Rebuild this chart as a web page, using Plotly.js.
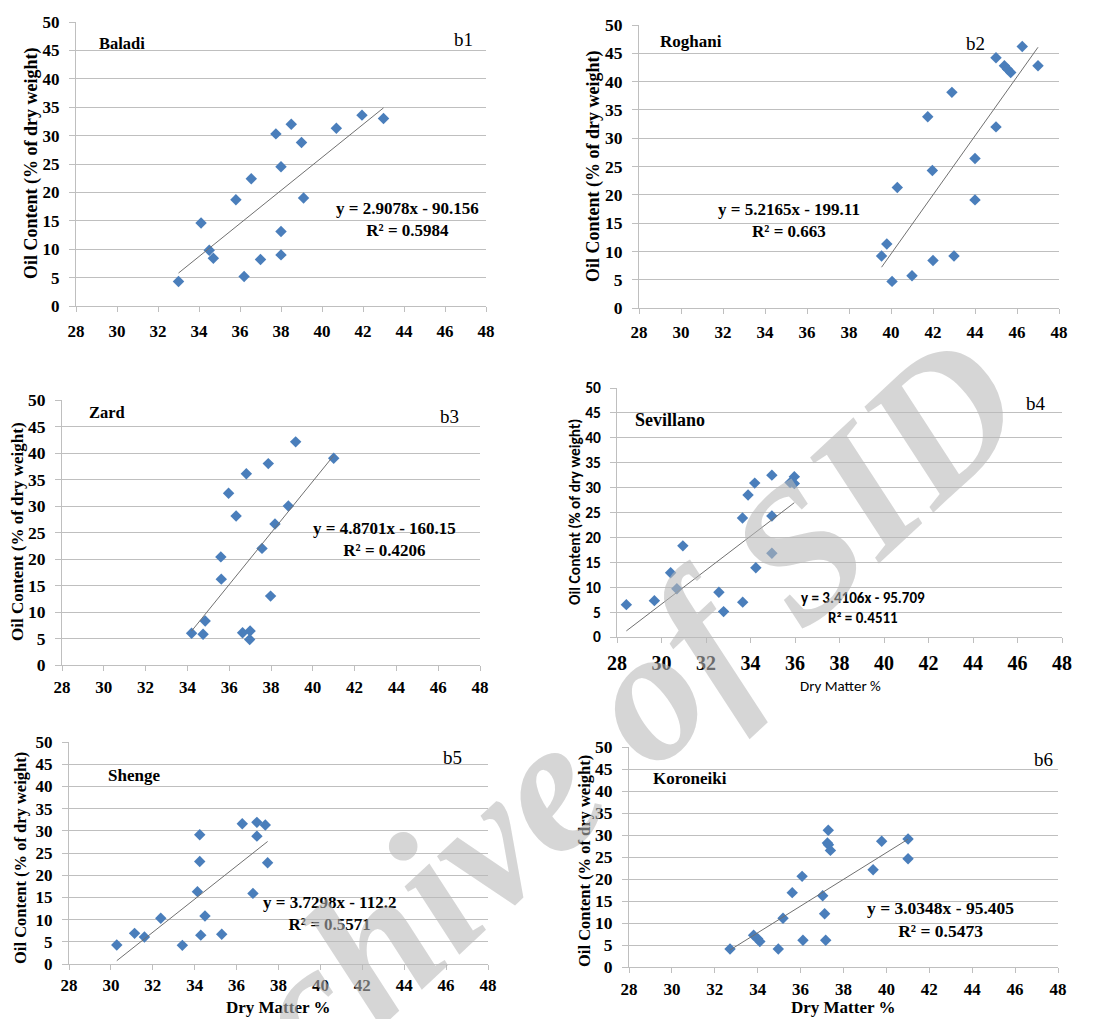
<!DOCTYPE html>
<html>
<head>
<meta charset="utf-8">
<script src="https://cdn.plot.ly/plotly-3.0.1.min.js"></script>
<style>
html,body{margin:0;padding:0;background:#fff;}
#chart{width:1094px;height:1019px;}
</style>
</head>
<body>
<div id="chart"></div>
<script>
// ---------------- DATA ----------------
const cultivars = ['Baladi', 'Roghani', 'Zard', 'Sevillano', 'Shenge', 'Koroneiki'];
const panelTags = ['b1', 'b2', 'b3', 'b4', 'b5', 'b6'];

const baladiX = [33.0, 34.1, 34.5, 34.7, 35.8, 36.2, 36.55, 37.0, 37.75, 38.0, 38.0, 38.0, 38.5, 39.0, 39.1, 40.7, 41.95, 43.0];
const baladiY = [4.3, 14.6, 9.8, 8.4, 18.7, 5.2, 22.4, 8.2, 30.3, 24.5, 13.1, 9.0, 32.0, 28.8, 19.0, 31.3, 33.6, 33.0];

const roghaniX = [39.55, 39.8, 40.05, 40.3, 41.0, 41.75, 41.97, 42.0, 42.9, 43.0, 44.0, 44.0, 45.0, 45.0, 45.4, 45.55, 45.7, 46.25, 47.0];
const roghaniY = [9.2, 11.3, 4.7, 21.3, 5.7, 33.8, 24.3, 8.4, 38.1, 9.2, 26.4, 19.1, 44.2, 32.0, 42.8, 42.2, 41.6, 46.2, 42.8];

const zardX = [34.2, 34.75, 34.85, 35.6, 35.62, 35.97, 36.33, 36.64, 36.82, 37.0, 36.98, 37.57, 37.87, 37.98, 38.19, 38.83, 39.18, 41.0];
const zardY = [6.0, 5.8, 8.3, 20.4, 16.2, 32.4, 28.1, 6.1, 36.1, 6.4, 4.8, 22.0, 38.0, 13.0, 26.6, 30.0, 42.1, 39.0];

const sevillanoX = [28.42, 29.68, 30.41, 30.69, 30.96, 32.58, 32.79, 33.64, 33.65, 33.89, 34.19, 34.24, 34.96, 34.96, 34.96, 35.78, 35.97, 35.97];
const sevillanoY = [6.5, 7.3, 12.9, 9.7, 18.3, 9.0, 5.1, 23.9, 7.0, 28.5, 30.9, 13.9, 32.5, 24.3, 16.8, 31.0, 32.2, 30.8];

const shengeX = [30.28, 31.13, 31.6, 32.38, 33.41, 34.13, 34.24, 34.24, 34.29, 34.49, 35.29, 36.27, 36.78, 36.97, 36.97, 37.37, 37.48];
const shengeY = [4.3, 6.9, 6.1, 10.3, 4.2, 16.3, 29.1, 23.1, 6.5, 10.8, 6.7, 31.6, 15.9, 31.9, 28.8, 31.3, 22.8];

const koroneikiX = [32.71, 33.81, 34.0, 34.1, 34.96, 35.18, 35.61, 36.07, 36.11, 37.03, 37.12, 37.17, 37.29, 37.25, 37.3, 37.39, 39.38, 39.78, 41.01, 41.01];
const koroneikiY = [4.1, 7.2, 6.4, 5.8, 4.1, 11.1, 16.9, 20.6, 6.1, 16.2, 12.1, 6.1, 31.1, 28.2, 27.8, 26.5, 22.1, 28.6, 29.1, 24.6];

const slopes = [2.9078, 5.2165, 4.8701, 3.4106, 3.7298, 3.0348];
const intercepts = [-90.156, -199.11, -160.15, -95.709, -112.2, -95.405];
const rSquared = ['0.5984', '0.663', '0.4206', '0.4511', '0.5571', '0.5473'];

const xTitle = 'Dry Matter %';
const yTitle = 'Oil Content (% of dry weight)';
const watermark = 'Archive of SID';

const seriesX = [baladiX, roghaniX, zardX, sevillanoX, shengeX, koroneikiX];
const seriesY = [baladiY, roghaniY, zardY, sevillanoY, shengeY, koroneikiY];

// ---------------- LAYOUT HELPERS ----------------
const W = 1094, H = 1019;
const fx = p => p / W;
const fy = p => 1 - p / H;
const SERIF = 'Liberation Serif, Times New Roman, serif';
const SANS = 'Carlito, Calibri, Lato, sans-serif';

// plot area boxes [left, right, top, bottom] in px
const boxes = [
  [76, 486, 22, 306],
  [639, 1059, 25, 308],
  [62, 480, 400, 665],
  [617, 1062, 388, 637],
  [69, 488, 742, 964],
  [629, 1058, 747, 967]
];
// per-panel styling
const panelStyle = [
  {xt: {f: SERIF, s: 17}, yt: {f: SERIF, s: 17}, xs: 5, title: {f: SERIF, s: 18, x: 31, y: 164}, name: {x: 97, y: 43, s: 16.5}, tag: {x: 463, y: 39}, eq: {x: 407, y: 219, f: SERIF, s: 17}, xlab: null},
  {xt: {f: SERIF, s: 17}, yt: {f: SERIF, s: 17.5}, xs: 4, title: {f: SERIF, s: 18, x: 594, y: 167}, name: {x: 658, y: 41, s: 17}, tag: {x: 975, y: 43}, eq: {x: 789, y: 220, f: SERIF, s: 17}, xlab: null},
  {xt: {f: SERIF, s: 17}, yt: {f: SERIF, s: 17.5}, xs: 2, title: {f: SERIF, s: 17, x: 17, y: 532}, name: {x: 87, y: 412, s: 16.5}, tag: {x: 449, y: 416}, eq: {x: 384, y: 539, f: SERIF, s: 17}, xlab: null},
  {xt: {f: SERIF, s: 20}, yt: {f: SANS, s: 15.5}, xs: 3, title: {f: SANS, s: 15.5, x: 575, y: 512}, name: {x: 633, y: 420, s: 18}, tag: {x: 1036, y: 403}, eq: {x: 863, y: 608, f: SANS, s: 15}, xlab: {x: 840, y: 686, f: SANS, s: 15, w: 'normal'}},
  {xt: {f: SERIF, s: 17}, yt: {f: SERIF, s: 17}, xs: 1, title: {f: SERIF, s: 16.5, x: 20, y: 858}, name: {x: 106, y: 775, s: 17}, tag: {x: 452, y: 757}, eq: {x: 329, y: 913, f: SERIF, s: 17}, xlab: {x: 278, y: 1007, f: SERIF, s: 17, w: 'bold'}},
  {xt: {f: SERIF, s: 17}, yt: {f: SERIF, s: 17.5}, xs: 2, title: {f: SERIF, s: 16.5, x: 584, y: 861}, name: {x: 651, y: 778, s: 17}, tag: {x: 1043, y: 759}, eq: {x: 940, y: 919, f: SERIF, s: 17.5}, xlab: {x: 843, y: 1007, f: SERIF, s: 17, w: 'bold'}}
];

const traces = [];
const layout = {
  width: W, height: H,
  margin: {l: 0, r: 0, t: 0, b: 0},
  paper_bgcolor: '#ffffff',
  plot_bgcolor: '#ffffff',
  showlegend: false,
  annotations: []
};

cultivars.forEach((name, i) => {
  const n = i + 1;
  const xa = 'x' + (n === 1 ? '' : n), ya = 'y' + (n === 1 ? '' : n);
  const xs = seriesX[i], ys = seriesY[i];
  const st = panelStyle[i];
  const b = boxes[i];

  traces.push({
    type: 'scatter', mode: 'markers', x: xs, y: ys, xaxis: xa, yaxis: ya,
    marker: {symbol: 'diamond', size: 8.8, color: '#4a7ebb', line: {width: 0}},
    hoverinfo: 'x+y', cliponaxis: false
  });
  const x0 = Math.min(...xs), x1 = Math.max(...xs);
  traces.push({
    type: 'scatter', mode: 'lines', x: [x0, x1],
    y: [slopes[i] * x0 + intercepts[i], slopes[i] * x1 + intercepts[i]],
    xaxis: xa, yaxis: ya,
    line: {color: '#707070', width: 1}, hoverinfo: 'skip'
  });

  const xkey = 'xaxis' + (n === 1 ? '' : n), ykey = 'yaxis' + (n === 1 ? '' : n);
  layout[xkey] = {
    domain: [fx(b[0]), fx(b[1])], anchor: ya,
    range: [28, 48], tick0: 28, dtick: 2,
    showgrid: false, zeroline: false,
    showline: true, linecolor: '#bfbfbf', linewidth: 1,
    ticks: 'outside', ticklen: 5, tickcolor: '#bfbfbf', tickwidth: 1,
    ticklabelstandoff: st.xs,
    tickfont: {family: st.xt.f, size: st.xt.s, color: '#000', weight: 'bold'},
    fixedrange: true
  };
  layout[ykey] = {
    domain: [fy(b[3]), fy(b[2])], anchor: xa,
    range: [0, 50], tick0: 0, dtick: 5,
    showgrid: true, gridcolor: '#bfbfbf', gridwidth: 1,
    zeroline: false,
    showline: true, linecolor: '#bfbfbf', linewidth: 1,
    ticks: 'outside', ticklen: 6, tickcolor: '#bfbfbf', tickwidth: 1,
    ticklabelstandoff: 6,
    tickfont: {family: st.yt.f, size: st.yt.s, color: '#000', weight: 'bold'},
    fixedrange: true
  };

  // y-axis title
  layout.annotations.push({
    xref: 'paper', yref: 'paper', x: fx(st.title.x), y: fy(st.title.y),
    text: yTitle, textangle: -90, showarrow: false,
    xanchor: 'center', yanchor: 'middle',
    font: {family: st.title.f, size: st.title.s, color: '#000', weight: 'bold'}
  });
  // x-axis title
  if (st.xlab) {
    layout.annotations.push({
      xref: 'paper', yref: 'paper', x: fx(st.xlab.x), y: fy(st.xlab.y),
      text: xTitle, showarrow: false, xanchor: 'center', yanchor: 'middle',
      font: {family: st.xlab.f, size: st.xlab.s, color: '#000', weight: st.xlab.w}
    });
  }
  // cultivar name
  layout.annotations.push({
    xref: 'paper', yref: 'paper', x: fx(st.name.x), y: fy(st.name.y),
    text: name, showarrow: false, xanchor: 'left', yanchor: 'middle',
    font: {family: SERIF, size: st.name.s, color: '#000', weight: 'bold'}
  });
  // panel tag
  layout.annotations.push({
    xref: 'paper', yref: 'paper', x: fx(st.tag.x), y: fy(st.tag.y),
    text: panelTags[i], showarrow: false, xanchor: 'center', yanchor: 'middle',
    font: {family: SERIF, size: 19, color: '#000'}
  });
  // equation
  const eqText = 'y = ' + slopes[i] + 'x - ' + Math.abs(intercepts[i]) + '<br>R² = ' + rSquared[i];
  layout.annotations.push({
    xref: 'paper', yref: 'paper', x: fx(st.eq.x), y: fy(st.eq.y),
    text: eqText, showarrow: false, xanchor: 'center', yanchor: 'middle', align: 'center',
    font: {family: st.eq.f, size: st.eq.s, color: '#000', weight: 'bold'}
  });
});

// watermark
layout.annotations.push({
  xref: 'paper', yref: 'paper', x: fx(555), y: fy(778),
  text: watermark, showarrow: false, textangle: -43,
  xanchor: 'center', yanchor: 'middle',
  font: {family: SERIF, size: 190, color: 'rgba(185,185,185,0.58)', weight: 'bold', style: 'italic'}
});

Plotly.newPlot('chart', traces, layout, {displayModeBar: false, staticPlot: true});
</script>
</body>
</html>
